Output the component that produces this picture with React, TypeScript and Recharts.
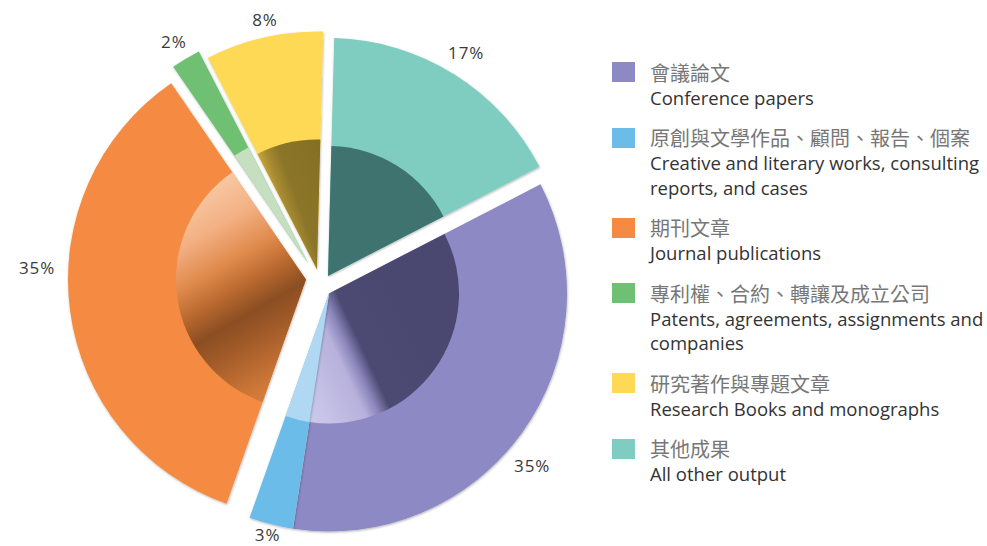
import { Cell, Legend, Pie, PieChart } from "recharts"

const categories = [
  "會議論文",
  "原創與文學作品、顧問、報告、個案",
  "期刊文章",
  "專利權、合約、轉讓及成立公司",
  "研究著作與專題文章",
  "其他成果",
]

const englishLines = [
  ["Conference papers"],
  ["Creative and literary works, consulting", "reports, and cases"],
  ["Journal publications"],
  ["Patents, agreements, assignments and", "companies"],
  ["Research Books and monographs"],
  ["All other output"],
]

const shares = [35, 3, 35, 2, 8, 17]

const data = categories.map((name, i) => ({ name, value: shares[i] }))

// styling
const colors = ["#8c89c5", "#6cbcea", "#f58b43", "#70c073", "#fdd955", "#7ecdc0"]
const innerFills = ["url(#g-purple)", "#b0d8f2", "url(#g-orange)", "#c5dfc0", "url(#g-yellow)", "#3e736f"]
// how far each slice is pulled out of the pie (dx, dy)
const explode = [
  [8, 8.5],
  [8, 8.5],
  [-15, -5.5],
  [-13, -22],
  [-4, -15.5],
  [7, -9],
]
const labelNudge = [5, 0, 9.4, -0.7, 1, 0]
const labelGap = [30, 14, 31, 18, 14, 22]

const CX = 316
const CY = 280
const R = 238
const R_IN = 130
const START = 27.3
const RAD = Math.PI / 180

function bandGradient(id: string, i: number, bandAngle: number, len: number, stops: [number, string][]) {
  const px = CX + explode[i][0]
  const py = CY + explode[i][1]
  const ux = Math.sin(bandAngle * RAD)
  const uy = -Math.cos(bandAngle * RAD)
  const nx = -uy
  const ny = ux
  return (
    <linearGradient
      id={id}
      gradientUnits="userSpaceOnUse"
      x1={px - nx * len}
      y1={py - ny * len}
      x2={px + nx * len}
      y2={py + ny * len}
    >
      {stops.map(([o, c]) => (
        <stop key={o} offset={o} stopColor={c} />
      ))}
    </linearGradient>
  )
}

function makeLabel(i: number) {
  return (p: any) => {
    if (p.index !== i) return null
    const a = (90 - p.midAngle + labelNudge[i]) * RAD
    const r = p.outerRadius + labelGap[i]
    const x = p.cx + r * Math.sin(a)
    const y = p.cy - r * Math.cos(a) - 3
    return (
      <text
        x={x}
        y={y}
        textAnchor="middle"
        dominantBaseline="central"
        fill="#3a3a3a"
        fontSize={17}
        letterSpacing={1}
        fontFamily="'Open Sans', sans-serif"
      >
        {`${p.value}%`}
      </text>
    )
  }
}

function LegendBlock() {
  return (
    <div>
      {categories.map((zh, i) => (
        <div key={zh} style={{ position: "relative", paddingLeft: 38, marginBottom: 14 }}>
          <div
            style={{ position: "absolute", left: 0, top: 3.5, width: 23, height: 20, background: colors[i] }}
          />
          <div
            style={{
              height: 27,
              lineHeight: "27px",
              fontSize: 20,
              color: "#777",
              fontFamily: "'Noto Sans CJK TC', sans-serif",
              whiteSpace: "nowrap",
            }}
          >
            {zh}
          </div>
          {englishLines[i].map((line) => (
            <div
              key={line}
              style={{
                height: 24.5,
                lineHeight: "24.5px",
                fontSize: 18.5,
                color: "#333",
                fontFamily: "'Open Sans', sans-serif",
                whiteSpace: "nowrap",
              }}
            >
              {line}
            </div>
          ))}
        </div>
      ))}
    </div>
  )
}

export default function App() {
  const pies = data.flatMap((_, i) => {
    const cx = CX + explode[i][0]
    const cy = CY + explode[i][1]
    return [
      <Pie
        key={`outer-${i}`}
        data={data}
        dataKey="value"
        cx={cx}
        cy={cy}
        innerRadius={0}
        outerRadius={R}
        startAngle={START}
        endAngle={START - 360}
        stroke="none"
        isAnimationActive={false}
        label={makeLabel(i)}
        labelLine={false}
      >
        {data.map((d, j) => (
          <Cell
            key={d.name}
            fill={j === i ? colors[i] : "none"}
            filter={j === i ? "url(#shadow)" : undefined}
          />
        ))}
      </Pie>,
      <Pie
        key={`inner-${i}`}
        data={data}
        dataKey="value"
        cx={cx}
        cy={cy}
        innerRadius={0}
        outerRadius={R_IN}
        startAngle={START}
        endAngle={START - 360}
        stroke="none"
        isAnimationActive={false}
      >
        {data.map((d, j) => (
          <Cell key={d.name} fill={j === i ? innerFills[i] : "none"} />
        ))}
      </Pie>,
    ]
  })

  return (
    <div style={{ position: "absolute", left: 0, top: 0, width: 987, height: 546, background: "#fff" }}>
      <PieChart width={987} height={546}>
        <defs>
          <filter id="shadow" x="-10%" y="-10%" width="120%" height="120%">
            <feDropShadow dx={0.5} dy={1} stdDeviation={1.3} floodColor="#000" floodOpacity={0.3} />
          </filter>
          {bandGradient("g-purple", 0, 155, 80, [
            [0, "#4a4870"],
            [0.44, "#4c4a73"],
            [0.52, "#8b86bb"],
            [0.6, "#b7b1dc"],
            [1, "#d3cfee"],
          ])}
          {bandGradient("g-orange", 2, 240, 130, [
            [0, "#e08744"],
            [0.2, "#cf7838"],
            [0.38, "#a05a28"],
            [0.47, "#8b4e22"],
            [0.57, "#b8682f"],
            [0.68, "#e08a4c"],
            [0.82, "#f3b083"],
            [1, "#f9cca8"],
          ])}
          {bandGradient("g-yellow", 4, 340, 50, [
            [0, "#ecca4a"],
            [0.3, "#dcbc40"],
            [0.45, "#a88c32"],
            [0.58, "#8b7528"],
            [1, "#847024"],
          ])}
        </defs>
        {pies}
        <Legend
          layout="vertical"
          align="right"
          verticalAlign="top"
          content={LegendBlock}
          wrapperStyle={{ left: 612, top: 58.5, width: 375 }}
        />
      </PieChart>
    </div>
  )
}
